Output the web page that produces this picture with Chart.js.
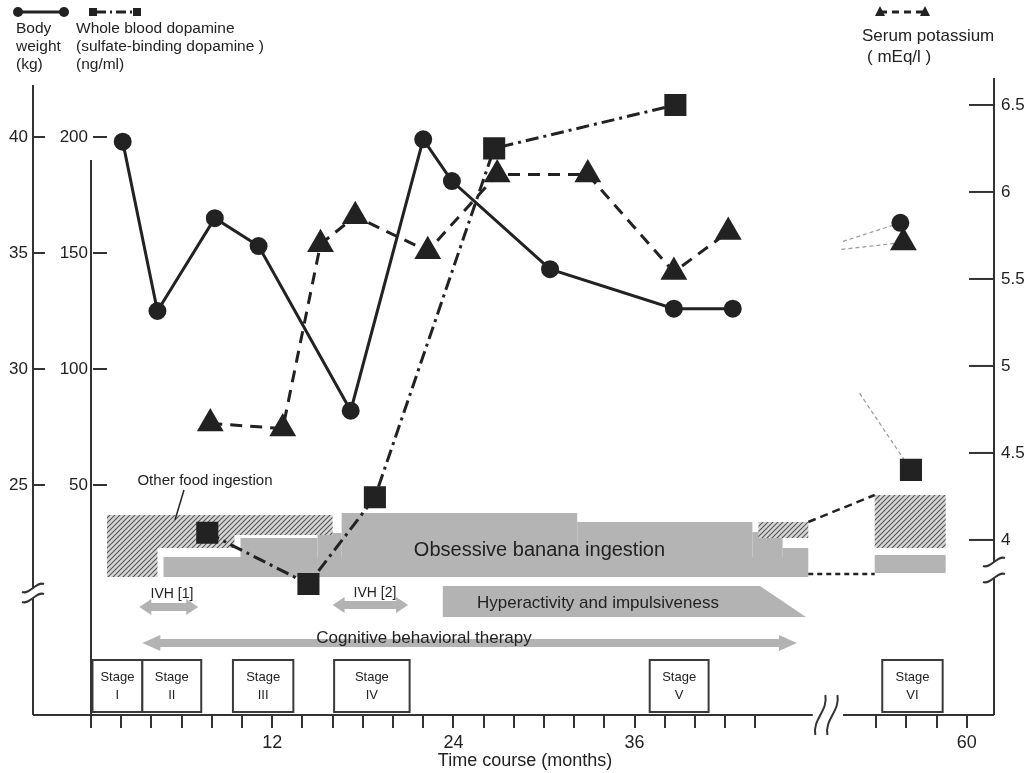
<!DOCTYPE html>
<html>
<head>
<meta charset="utf-8">
<script src="https://cdn.jsdelivr.net/npm/chart.js@4.4.0/dist/chart.umd.min.js"></script>
<style>
  html, body { margin: 0; padding: 0; background: #fff; }
</style>
</head>
<body>
<canvas id="chart" width="1033" height="773"></canvas>
<script>
const weightMonths = [2.1, 4.4, 8.2, 11.1, 17.2, 22.0, 23.9, 30.4, 38.6, 42.5, 55.6];
const weightKg = [39.8, 32.5, 36.5, 35.3, 28.2, 39.9, 38.1, 34.3, 32.6, 32.6, 36.3];
const dopamineMonths = [7.7, 14.4, 18.8, 26.7, 38.7, 56.3];
const dopamineNgMl = [29.4, 7.3, 44.7, 195.1, 213.8, 56.5];
const potassiumMonths = [7.9, 12.7, 15.2, 17.5, 22.3, 26.9, 32.9, 38.6, 42.2, 55.8];
const potassiumMEq = [4.67, 4.64, 5.70, 5.86, 5.66, 6.10, 6.10, 5.54, 5.77, 5.71];
// start of the thin grey links that cross the break (weight, dopamine, potassium)
const linkMonths = [51.8, 52.9, 51.7];
const linkValues = [35.5, 89.5, 5.67];

const weightTicks = [25, 30, 35, 40];
const dopamineTicks = [50, 100, 150, 200];
const potassiumTicks = [4, 4.5, 5, 5.5, 6, 6.5];
const monthTicks = [0, 2, 4, 6, 8, 10, 12, 14, 16, 18, 20, 22, 24, 26, 28, 30, 32, 34, 36, 38, 40, 42, 44, 54, 56, 58, 60];
const monthLabels = [12, 24, 36, 60];

const stageNames = ['I', 'II', 'III', 'IV', 'V', 'VI'];
const stageStart = [0.1, 3.4, 9.4, 16.1, 37.0, 54.4];
const stageEnd = [3.4, 7.3, 13.4, 21.1, 40.9, 58.4];

const FONT = '"Liberation Sans", Arial, sans-serif';
const INK = '#222';

// two months are cut out of the axis at the break
const toPlot = m => (m > 48 ? m - 2 : m);
const fromPlot = p => (p > 46 ? p + 2 : p);

function series(months, values) {
    return months.map((m, i) => ({ x: toPlot(m), y: values[i] }));
}
// the segment that jumps the break is not drawn
const hideLast = n => c => (c.p1DataIndex === n - 1 ? 'rgba(0,0,0,0)' : undefined);

function link(i, months, values) {
    const k = months.length - 1;
    return [{ x: toPlot(linkMonths[i]), y: linkValues[i] }, { x: toPlot(months[k]), y: values[k] }];
}

function hatchPattern(ctx) {
    const c = document.createElement('canvas');
    c.width = 5; c.height = 5;
    const g = c.getContext('2d');
    g.fillStyle = '#d6d6d6';
    g.fillRect(0, 0, 5, 5);
    g.strokeStyle = '#555';
    g.lineWidth = 1.1;
    g.beginPath();
    g.moveTo(0, 5); g.lineTo(5, 0);
    g.moveTo(-1, 1); g.lineTo(1, -1);
    g.moveTo(4, 6); g.lineTo(6, 4);
    g.stroke();
    return ctx.createPattern(c, 'repeat');
}

function seg(ctx, x1, y1, x2, y2) {
    ctx.beginPath();
    ctx.moveTo(x1, y1);
    ctx.lineTo(x2, y2);
    ctx.stroke();
}

function arrow(ctx, x1, x2, y, shaft, head, len) {
    ctx.beginPath();
    ctx.moveTo(x1, y);
    ctx.lineTo(x1 + len, y - head);
    ctx.lineTo(x1 + len, y - shaft);
    ctx.lineTo(x2 - len, y - shaft);
    ctx.lineTo(x2 - len, y - head);
    ctx.lineTo(x2, y);
    ctx.lineTo(x2 - len, y + head);
    ctx.lineTo(x2 - len, y + shaft);
    ctx.lineTo(x1 + len, y + shaft);
    ctx.lineTo(x1 + len, y + head);
    ctx.closePath();
    ctx.fill();
}

function breakV(ctx, x, y) {
    ctx.beginPath();
    ctx.moveTo(x - 11, y + 4);
    ctx.bezierCurveTo(x - 3, y + 7, x + 3, y - 7, x + 11, y - 4);
    ctx.stroke();
}

function breakH(ctx, x, y) {
    ctx.beginPath();
    ctx.moveTo(x - 5, y + 20);
    ctx.bezierCurveTo(x - 8, y + 4, x + 8, y - 4, x + 5, y - 20);
    ctx.stroke();
}

const decor = {
    id: 'decor',
    beforeDatasetsDraw(chart) {
        const ctx = chart.ctx;
        const xs = chart.scales.x;
        const X = m => xs.getPixelForValue(toPlot(m));
        const rect = (m1, m2, y1, y2, fill) => {
            ctx.fillStyle = fill;
            ctx.fillRect(X(m1), y1, X(m2) - X(m1), y2 - y1);
        };
        ctx.save();

        // banana / other food ingestion bands
        const grey = '#b4b4b4';
        rect(9.9, 15.0, 538, 557, grey);
        rect(15.0, 16.6, 533, 557, grey);
        rect(16.6, 32.2, 513, 557, grey);
        rect(32.2, 43.8, 522, 557, grey);
        rect(43.8, 45.8, 532, 557, grey);
        rect(45.8, 47.5, 548, 557, grey);
        rect(4.8, 47.5, 557, 577, grey);
        rect(53.9, 58.6, 555, 573, grey);
        const hat = hatchPattern(ctx);
        rect(1.06, 16.0, 515, 535, hat);
        rect(1.06, 9.5, 535, 548, hat);
        rect(1.06, 4.4, 548, 577, hat);
        rect(44.2, 47.5, 522, 538, hat);
        rect(53.9, 58.6, 495, 548, hat);

        ctx.strokeStyle = INK;
        ctx.lineWidth = 2.5;
        ctx.setLineDash([8, 5]);
        seg(ctx, X(47.5), 522, X(53.9), 495);
        ctx.setLineDash([5, 4]);
        seg(ctx, X(47.5), 574, X(53.9), 574);
        ctx.setLineDash([]);

        ctx.fillStyle = INK;
        ctx.textAlign = 'center';
        ctx.textBaseline = 'middle';
        ctx.font = '15px ' + FONT;
        ctx.fillText('Other food ingestion', 205, 481);
        ctx.lineWidth = 1.5;
        seg(ctx, 184, 490, 175, 520);
        ctx.font = '20px ' + FONT;
        ctx.fillText('Obsessive banana ingestion', X(29.7), 550);

        // IVH arrows, hyperactivity band, CBT arrow
        ctx.fillStyle = '#b3b3b3';
        arrow(ctx, X(3.2), X(7.1), 607, 4, 8, 12);
        arrow(ctx, X(16.0), X(21.0), 605, 4, 8, 12);
        arrow(ctx, X(3.4), X(46.75), 643, 4, 8, 18);
        ctx.beginPath();
        ctx.moveTo(X(23.3), 586);
        ctx.lineTo(X(44.3), 586);
        ctx.lineTo(X(47.35), 617);
        ctx.lineTo(X(23.3), 617);
        ctx.closePath();
        ctx.fill();

        ctx.fillStyle = INK;
        ctx.font = '14px ' + FONT;
        ctx.fillText('IVH [1]', 172, 594);
        ctx.fillText('IVH [2]', 375, 593);
        ctx.font = '17px ' + FONT;
        ctx.fillText('Hyperactivity and impulsiveness', 598, 603);
        ctx.fillText('Cognitive behavioral therapy', 424, 638);

        // stage boxes
        stageNames.forEach((s, i) => {
            const x1 = X(stageStart[i]);
            const x2 = X(stageEnd[i]);
            ctx.fillStyle = '#fff';
            ctx.fillRect(x1, 660, x2 - x1, 52);
            ctx.strokeStyle = '#3a3a3a';
            ctx.lineWidth = 2;
            ctx.strokeRect(x1, 660, x2 - x1, 52);
            ctx.fillStyle = INK;
            ctx.font = '13px ' + FONT;
            ctx.fillText('Stage', (x1 + x2) / 2, 677);
            ctx.fillText(s, (x1 + x2) / 2, 695);
        });

        // axis lines with breaks and inward tick marks
        const yW = chart.scales.yW, yD = chart.scales.yD, yK = chart.scales.yK;
        const wx = yW.right, dx = yD.right, kx = yK.left, by = chart.chartArea.bottom;
        ctx.strokeStyle = '#333';
        ctx.lineWidth = 2;
        seg(ctx, wx, 85, wx, 588);
        seg(ctx, wx, 598, wx, by);
        seg(ctx, wx, by, dx, by);
        breakV(ctx, wx, 588);
        breakV(ctx, wx, 598);
        seg(ctx, dx, 160, dx, by + 13);
        seg(ctx, dx, by, xs.getPixelForValue(47.8), by);
        seg(ctx, xs.getPixelForValue(49.8), by, kx, by);
        breakH(ctx, xs.getPixelForValue(48.3), by);
        breakH(ctx, xs.getPixelForValue(49.1), by);
        seg(ctx, kx, 78, kx, 562);
        seg(ctx, kx, 578, kx, by);
        breakV(ctx, kx, 562);
        breakV(ctx, kx, 578);
        weightTicks.forEach(v => { const y = yW.getPixelForValue(v); seg(ctx, wx, y, wx + 12, y); });
        dopamineTicks.forEach(v => { const y = yD.getPixelForValue(v); seg(ctx, dx + 2, y, dx + 16, y); });
        potassiumTicks.forEach(v => { const y = yK.getPixelForValue(v); seg(ctx, kx - 25, y, kx, y); });

        // series keys at the top
        ctx.strokeStyle = INK;
        ctx.fillStyle = INK;
        ctx.lineWidth = 3;
        seg(ctx, 18, 12, 64, 12);
        [18, 64].forEach(x => { ctx.beginPath(); ctx.arc(x, 12, 5, 0, Math.PI * 2); ctx.fill(); });
        ctx.setLineDash([10, 4, 2, 4]);
        seg(ctx, 96, 12, 134, 12);
        ctx.setLineDash([]);
        [93, 137].forEach(x => ctx.fillRect(x - 4, 8, 8, 8));
        ctx.setLineDash([7, 5]);
        seg(ctx, 880, 12, 925, 12);
        ctx.setLineDash([]);
        [880, 925].forEach(x => {
            ctx.beginPath();
            ctx.moveTo(x, 6); ctx.lineTo(x + 5, 16); ctx.lineTo(x - 5, 16);
            ctx.closePath();
            ctx.fill();
        });

        ctx.textAlign = 'left';
        ctx.font = '15.5px ' + FONT;
        ctx.fillText('Body', 16, 29);
        ctx.fillText('weight', 16, 47);
        ctx.fillText('(kg)', 16, 65);
        ctx.fillText('Whole blood dopamine', 76, 29);
        ctx.fillText('(sulfate-binding dopamine )', 76, 47);
        ctx.fillText('(ng/ml)', 76, 65);
        ctx.font = '17px ' + FONT;
        ctx.fillText('Serum potassium', 862, 36);
        ctx.fillText('( mEq/l )', 867, 57);

        ctx.textAlign = 'center';
        ctx.font = '18px ' + FONT;
        ctx.fillText('Time course (months)', 525, 761);
        ctx.restore();
    }
};

const yAxis = (pos, weight, min, max, ticks, width, pad) => ({
    type: 'linear',
    position: pos,
    weight: weight,
    min: min,
    max: max,
    afterBuildTicks: s => { s.ticks = ticks.map(v => ({ value: v })); },
    afterFit: s => { s.width = width; },
    ticks: { padding: pad, color: INK, font: { family: FONT, size: 17 }, callback: v => String(v) },
    grid: { display: false, drawTicks: false },
    border: { display: false }
});

new Chart(document.getElementById('chart'), {
    type: 'line',
    data: {
        datasets: [
            {
                label: 'Body weight (kg)',
                data: series(weightMonths, weightKg),
                yAxisID: 'yW',
                borderColor: INK,
                borderWidth: 3,
                pointStyle: 'circle',
                pointRadius: 7.5,
                pointBackgroundColor: INK,
                pointBorderColor: INK,
                segment: { borderColor: hideLast(weightMonths.length) }
            },
            {
                label: 'Whole blood dopamine (ng/ml)',
                data: series(dopamineMonths, dopamineNgMl),
                yAxisID: 'yD',
                borderColor: INK,
                borderWidth: 3,
                borderDash: [13, 5, 3, 5],
                pointStyle: 'rect',
                pointRadius: 13.5,
                pointBackgroundColor: INK,
                pointBorderColor: INK,
                segment: { borderColor: hideLast(dopamineMonths.length) }
            },
            {
                label: 'Serum potassium (mEq/l)',
                data: series(potassiumMonths, potassiumMEq),
                yAxisID: 'yK',
                borderColor: INK,
                borderWidth: 3,
                borderDash: [12, 8],
                pointStyle: 'triangle',
                pointRadius: 12.5,
                pointBackgroundColor: INK,
                pointBorderColor: INK,
                segment: { borderColor: hideLast(potassiumMonths.length) }
            },
            { data: link(0, weightMonths, weightKg), yAxisID: 'yW', borderColor: '#999', borderWidth: 1.2, borderDash: [4, 3], pointRadius: 0 },
            { data: link(1, dopamineMonths, dopamineNgMl), yAxisID: 'yD', borderColor: '#999', borderWidth: 1.2, borderDash: [4, 3], pointRadius: 0 },
            { data: link(2, potassiumMonths, potassiumMEq), yAxisID: 'yK', borderColor: '#999', borderWidth: 1.2, borderDash: [4, 3], pointRadius: 0 }
        ]
    },
    options: {
        responsive: false,
        animation: false,
        layout: { padding: { top: 78, left: 0, right: 0, bottom: 0 } },
        plugins: { legend: { display: false }, tooltip: { enabled: false } },
        scales: {
            x: {
                type: 'linear',
                min: 0,
                max: 59.8,
                afterBuildTicks: s => { s.ticks = monthTicks.map(m => ({ value: toPlot(m) })); },
                afterFit: s => { s.height = 58; },
                ticks: {
                    autoSkip: false,
                    maxRotation: 0,
                    padding: 4,
                    color: INK,
                    font: { family: FONT, size: 18 },
                    callback: v => { const m = fromPlot(v); return monthLabels.includes(m) ? String(m) : ''; }
                },
                grid: { drawOnChartArea: false, drawTicks: true, tickLength: 13, color: '#333', lineWidth: 2 },
                border: { display: false }
            },
            yW: yAxis('left', 2, 15.086, 42.543, weightTicks, 33, 5),
            yD: yAxis('left', 1, -49.14, 225.43, dopamineTicks, 58, 3),
            yK: yAxis('right', 1, 2.994, 6.655, potassiumTicks, 39, 7)
        }
    },
    plugins: [decor]
});
</script>
</body>
</html>
